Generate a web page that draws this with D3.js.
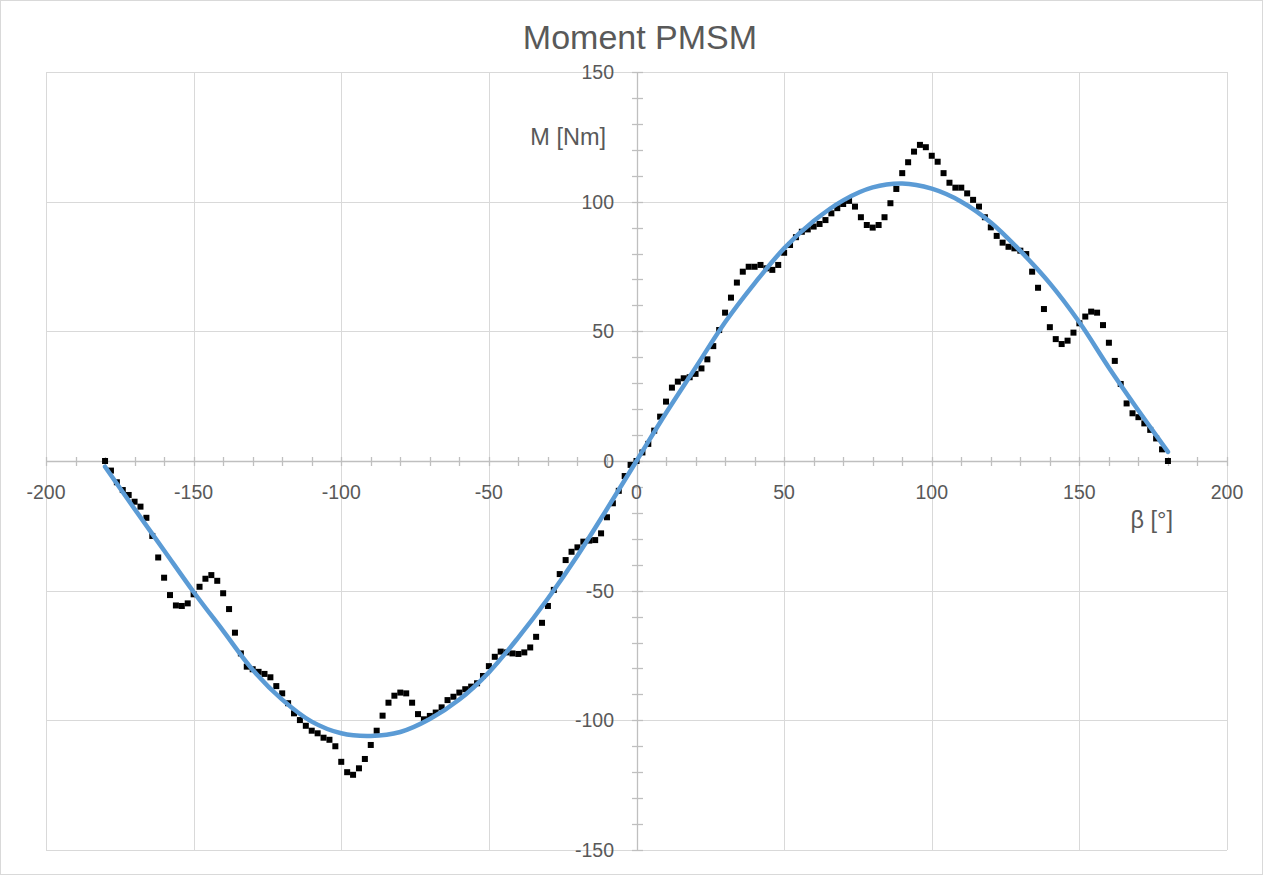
<!DOCTYPE html>
<html>
<head>
<meta charset="utf-8">
<script src="https://cdn.jsdelivr.net/npm/d3@7"></script>
<style>
  html, body { margin: 0; padding: 0; background: #fff; }
  svg { display: block; }
  text { font-family: "Liberation Sans", Arial, sans-serif; fill: #595959; }
</style>
</head>
<body>
<svg id="chart" width="1263" height="875"></svg>
<script>
// ---- Data ----
const title = "Moment PMSM";
const xAxisTitle = "β [°]";
const yAxisTitle = "M [Nm]";
const xTicks = [-200, -150, -100, -50, 0, 50, 100, 150, 200];
const yTicks = [-150, -100, -50, 0, 50, 100, 150];

// measured angles (every 2°) and torque values
const measuredBeta = d3.range(-180, 181, 2);
const measuredM = [
  0, -3.7, -8.2, -11.2, -13.1, -15.7, -17.6, -21.9, -28.9, -37.2,
  -45, -51.7, -55.7, -55.9, -54.9, -51.4, -48.5, -45.4, -44, -46.2,
  -51, -57.1, -66.2, -74.2, -79.3, -80.3, -81.3, -82.1, -83.4, -86.8,
  -89.6, -93.4, -97.3, -99.9, -102.1, -104, -105, -106.7, -107.5, -110,
  -116, -120, -121, -118.5, -114.9, -109.5, -104, -98.2, -93.2, -90.5,
  -89.3, -89.6, -93.2, -97.6, -99.6, -98.3, -97, -95, -92.2, -90.9,
  -89.3, -88, -87, -85.7, -82.9, -79.1, -75.5, -73.5, -73.8, -74.2,
  -74.4, -73.8, -71.9, -67.8, -62.4, -55.9, -49.7, -43.6, -38.2, -35,
  -33.3, -31.1, -30.7, -30.5, -27.9, -21.7, -16.3, -11.5, -5.8, -1.5,
  0,
  3.3, 6.6, 11.7, 17.1, 22.9, 28.3, 30.6, 31.9, 32.3, 33.6,
  35.7, 39.2, 44.3, 50.5, 57.2, 63, 68.8, 73, 74.9, 74.9,
  75.6, 74.3, 73.7, 75.6, 80.3, 83.3, 86.3, 88.4, 89.3, 90.4,
  91.4, 92.9, 95.5, 97.5, 99.1, 100.3, 98.1, 94, 91, 90,
  91, 94, 99.4, 104.9, 111, 115.2, 119.3, 121.9, 121, 117.7,
  115.4, 111, 107.3, 105.4, 105.4, 103.2, 100.7, 98.1, 94, 90.1,
  86.8, 84.2, 82.6, 82, 81.1, 79.8, 73, 66.8, 58.6, 51.6,
  47, 45.1, 46.4, 49.5, 53.1, 55.7, 57.6, 57.2, 52.4, 45.6,
  38.6, 29.7, 22.2, 18.4, 16.9, 14.5, 12, 8.7, 4.5, 0
];

// fitted curve (read every 10°)
const fitBeta = [-180, -170, -160, -150, -140, -130, -120, -110, -100, -90,
  -80, -70, -60, -50, -40, -30, -20, -10, 0, 10, 20, 30, 40, 50, 60, 70,
  80, 90, 100, 110, 120, 130, 140, 150, 160, 170, 180];
const fitM = [-2.2, -18.5, -34.5, -50.5, -65.5, -80.5, -92, -100.5, -105, -106,
  -104.5, -99.5, -92, -81.5, -68, -53, -36.5, -18.5, 0, 18.5, 36, 53.5, 68.5,
  82, 92.5, 100.5, 105.5, 107, 105, 100, 92, 81, 68.5, 53.5, 36, 19.5, 3.5];

// ---- Chart ----
const svg = d3.select("#chart");
const x = d3.scaleLinear().domain([-200, 200]).range([46, 1227]);
const y = d3.scaleLinear().domain([-150, 150]).range([850, 72]);

// outer border
svg.append("rect").attr("x", 0.5).attr("y", 0.5).attr("width", 1262).attr("height", 874)
  .attr("fill", "#fff").attr("stroke", "#d9d9d9");

// grid
const grid = svg.append("g").attr("stroke", "#d9d9d9").attr("stroke-width", 1);
grid.selectAll("line.v").data(xTicks).join("line")
  .attr("x1", d => Math.round(x(d)) + 0.5).attr("x2", d => Math.round(x(d)) + 0.5)
  .attr("y1", y(150)).attr("y2", y(-150));
grid.selectAll("line.h").data(yTicks).join("line")
  .attr("y1", d => Math.round(y(d)) + 0.5).attr("y2", d => Math.round(y(d)) + 0.5)
  .attr("x1", x(-200)).attr("x2", x(200));

// axes through origin with crossing minor ticks every 10
const minorX = d3.range(-200, 201, 10);
const minorY = d3.range(-150, 151, 10);
const axisG = svg.append("g").attr("stroke", "#bfbfbf").attr("stroke-width", 1.3);
const y0 = Math.round(y(0)) + 0.5, x0 = Math.round(x(0)) + 0.5;
axisG.append("line").attr("x1", x(-200)).attr("x2", x(200)).attr("y1", y0).attr("y2", y0);
axisG.selectAll("line.tx").data(minorX).join("line")
  .attr("x1", d => Math.round(x(d)) + 0.5).attr("x2", d => Math.round(x(d)) + 0.5)
  .attr("y1", y0 - 4.5).attr("y2", y0 + 4.5);
axisG.append("line").attr("x1", x0).attr("x2", x0).attr("y1", y(150)).attr("y2", y(-150));
axisG.selectAll("line.ty").data(minorY).join("line")
  .attr("y1", d => Math.round(y(d)) + 0.5).attr("y2", d => Math.round(y(d)) + 0.5)
  .attr("x1", x0 - 5.5).attr("x2", x0 + 5.5);

// tick labels
svg.append("g").selectAll("text").data(xTicks).join("text")
  .attr("x", d => x(d)).attr("y", 499).attr("text-anchor", "middle")
  .attr("font-size", 19.5).text(d => d);
svg.append("g").selectAll("text").data(yTicks).join("text")
  .attr("x", 614).attr("y", d => y(d) + 7).attr("text-anchor", "end")
  .attr("font-size", 19.5).text(d => d);

// title & axis titles
svg.append("text").attr("x", 640).attr("y", 49).attr("text-anchor", "middle")
  .attr("font-size", 34).text(title);
svg.append("text").attr("x", 606).attr("y", 145).attr("text-anchor", "end")
  .attr("font-size", 23.5).text(yAxisTitle);
svg.append("text").attr("x", 1173).attr("y", 528).attr("text-anchor", "end")
  .attr("font-size", 23.5).text(xAxisTitle);

// markers
const ms = 6;
svg.append("g").selectAll("rect").data(measuredBeta.map((b, i) => [b, measuredM[i]])).join("rect")
  .attr("x", d => x(d[0]) - ms / 2).attr("y", d => y(d[1]) - ms / 2)
  .attr("width", ms).attr("height", ms).attr("fill", "#000");

// fitted line
const line = d3.line().x(d => x(d[0])).y(d => y(d[1])).curve(d3.curveCatmullRom);
svg.append("path").datum(fitBeta.map((b, i) => [b, fitM[i]]))
  .attr("d", line).attr("fill", "none").attr("stroke", "#5b9bd5")
  .attr("stroke-width", 4.5).attr("stroke-linecap", "round");
</script>
</body>
</html>
